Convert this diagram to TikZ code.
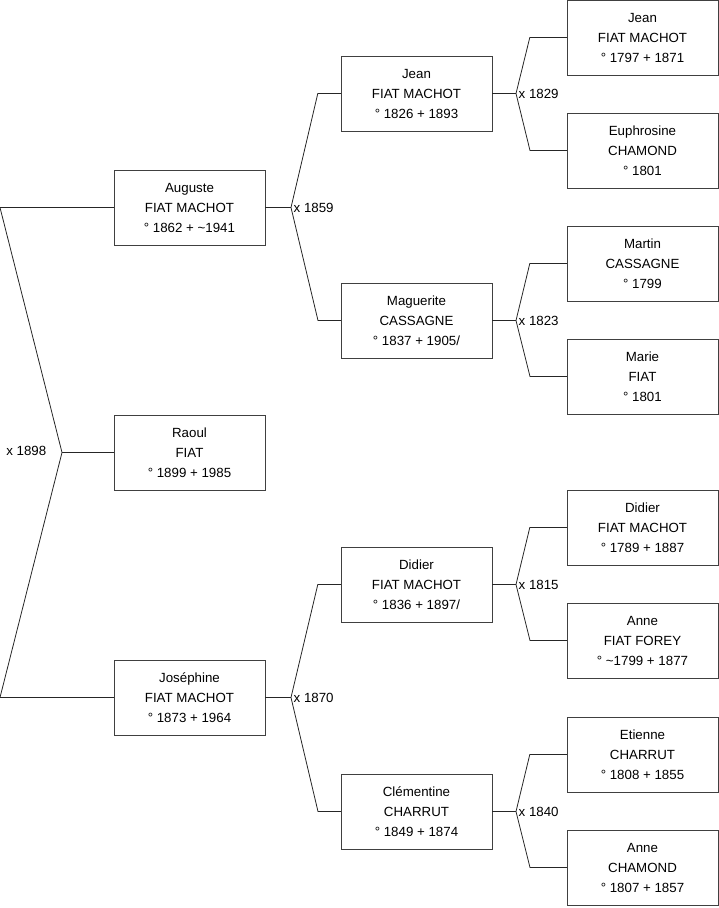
\documentclass[tikz,border=0pt]{standalone}
\usepackage{fontspec}
\setmainfont{Liberation Sans}
\begin{document}
\begin{tikzpicture}[x=1pt,y=-1pt,font=\fontsize{13.3}{20}\selectfont,
  person/.style={draw=black!75, fill=white, minimum width=151pt, minimum height=75pt, inner sep=0pt, align=center},
  link/.style={draw=black!85, line width=0.8pt},
  wed/.style={inner sep=2.5pt}]
\useasboundingbox (0,0) rectangle (719,908);
% generation 1
\node[person] (auguste) at (189.5,207.5) {Auguste\\FIAT MACHOT\\° 1862 + \textasciitilde1941};
\node[person] (raoul) at (189.5,452.5) {Raoul\\FIAT\\° 1899 + 1985};
\node[person] (josephine) at (189.5,697.5) {Joséphine\\FIAT MACHOT\\° 1873 + 1964};
% generation 2
\node[person] (jean) at (416.5,93.5) {Jean\\FIAT MACHOT\\° 1826 + 1893};
\node[person] (maguerite) at (416.5,320.5) {Maguerite\\CASSAGNE\\° 1837 + 1905/};
\node[person] (didier) at (416.5,584.5) {Didier\\FIAT MACHOT\\° 1836 + 1897/};
\node[person] (clementine) at (416.5,811.5) {Clémentine\\CHARRUT\\° 1849 + 1874};
% generation 3
\node[person] (jeanp) at (642.5,37.5) {Jean\\FIAT MACHOT\\° 1797 + 1871};
\node[person] (euphrosine) at (642.5,150.5) {Euphrosine\\CHAMOND\\° 1801};
\node[person] (martin) at (642.5,263.5) {Martin\\CASSAGNE\\° 1799};
\node[person] (marie) at (642.5,376.5) {Marie\\FIAT\\° 1801};
\node[person] (didierp) at (642.5,527.5) {Didier\\FIAT MACHOT\\° 1789 + 1887};
\node[person] (anne) at (642.5,640.5) {Anne\\FIAT FOREY\\° \textasciitilde1799 + 1877};
\node[person] (etienne) at (642.5,754.5) {Etienne\\CHARRUT\\° 1808 + 1855};
\node[person] (annec) at (642.5,867.5) {Anne\\CHAMOND\\° 1807 + 1857};
% couples
\coordinate (c1898) at (62,452.5);
\coordinate (c1859) at (291,207.5);
\coordinate (c1870) at (291,697.5);
\coordinate (c1829) at (516,93.5);
\coordinate (c1823) at (516,320.5);
\coordinate (c1815) at (516,584.5);
\coordinate (c1840) at (516,811.5);
\node[wed, anchor=east] (w1898) at (49,451) {x 1898};
\node[wed, anchor=west] (w1859) at (c1859) {x 1859};
\node[wed, anchor=west] (w1870) at (c1870) {x 1870};
\node[wed, anchor=west] (w1829) at (c1829) {x 1829};
\node[wed, anchor=west] (w1823) at (c1823) {x 1823};
\node[wed, anchor=west] (w1815) at (c1815) {x 1815};
\node[wed, anchor=west] (w1840) at (c1840) {x 1840};
% links
\draw[link] (raoul.west) -- (c1898);
\draw[link] (auguste.west) -- (0,207.5) -- (c1898) -- (0,697.5) -- (josephine.west);
\draw[link] (auguste.east) -- (c1859);
\draw[link] (jean.west) -- ++(-23,0) -- (c1859) -- (318,320.5) -- (maguerite.west);
\draw[link] (josephine.east) -- (c1870);
\draw[link] (didier.west) -- ++(-23,0) -- (c1870) -- (318,811.5) -- (clementine.west);
\draw[link] (jean.east) -- (c1829);
\draw[link] (jeanp.west) -- ++(-37,0) -- (c1829) -- (530,150.5) -- (euphrosine.west);
\draw[link] (maguerite.east) -- (c1823);
\draw[link] (martin.west) -- ++(-37,0) -- (c1823) -- (530,376.5) -- (marie.west);
\draw[link] (didier.east) -- (c1815);
\draw[link] (didierp.west) -- ++(-37,0) -- (c1815) -- (530,640.5) -- (anne.west);
\draw[link] (clementine.east) -- (c1840);
\draw[link] (etienne.west) -- ++(-37,0) -- (c1840) -- (530,867.5) -- (annec.west);
\end{tikzpicture}
\end{document}
